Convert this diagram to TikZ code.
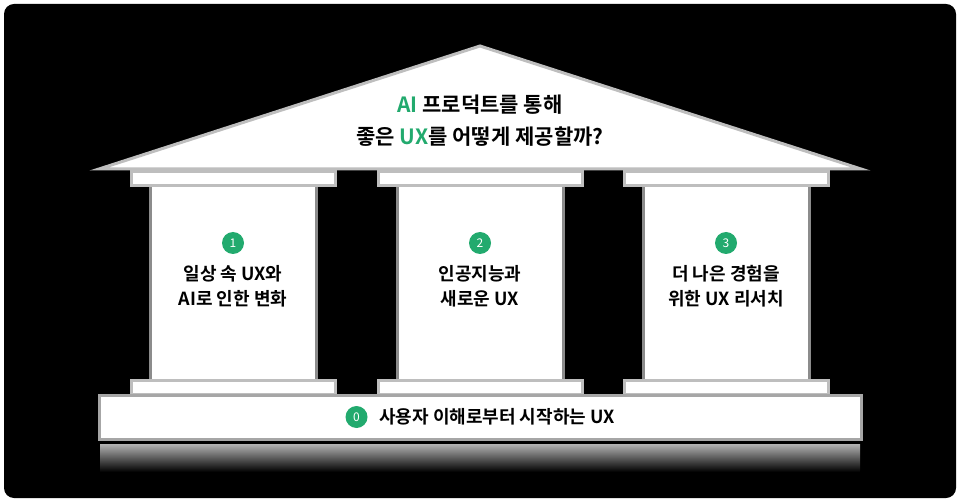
\documentclass[tikz,border=0pt]{standalone}
\usepackage{fontspec}
\setmainfont{Noto Sans CJK KR}[BoldFont={Noto Sans CJK KR Bold}]
\usetikzlibrary{positioning}
\definecolor{ngreen}{RGB}{34,170,110}
\definecolor{edgegray}{RGB}{190,190,190}
\tikzset{
  plate/.style={draw=edgegray, line width=3pt, fill=white},
  pillar/.style={draw=gray!90, line width=3pt, fill=white},
  badge/.style={circle, fill=ngreen, text=white, inner sep=0pt, minimum size=22pt, font=\fontsize{12}{12}\selectfont},
  caption/.style={align=center, font=\bfseries\fontsize{18}{25}\selectfont}
}
\begin{document}
\begin{tikzpicture}[x=1pt,y=-1pt]
  \useasboundingbox (0,0) rectangle (960,502);
  \fill[white] (0,0) rectangle (960,502);
  \fill[black, rounded corners=10pt] (4,4) rectangle (956,498);

  % reflection
  \shade[top color=gray!60, bottom color=black] (100,444) rectangle (860,472);

  % roof
  \draw[edgegray, line width=3pt, fill=white, line join=miter] (99,169) -- (480,46) -- (861,169) -- cycle;
  \node[caption, font=\bfseries\fontsize{21}{32}\selectfont] (roof) at (480,121)
    {{\color{ngreen}AI} 프로덕트를 통해\\좋은 {\color{ngreen}UX}를 어떻게 제공할까?};

  % pillars
  \foreach \cx/\num/\txt [count=\i] in {233/1/{일상 속 UX와\\AI로 인한 변화},
                                        480/2/{인공지능과\\새로운 UX},
                                        726/3/{더 나은 경험을\\위한 UX 리서치}} {
    \draw[pillar] (\cx-83,186) rectangle (\cx+83,380);
    \draw[plate] (\cx-102,172) rectangle (\cx+102,186);
    \draw[plate] (\cx-102,380) rectangle (\cx+102,394);
    \node[badge] (num\i) at (\cx,243) {\num};
    \node[caption, below=8pt of num\i] (col\i) {\txt};
  }

  % base
  \draw[plate, draw=gray!70] (99,395) rectangle (861,439);
  \node[caption] (basetext) at (497,417) {사용자 이해로부터 시작하는 UX};
  \node[badge, left=8pt of basetext] (num0) {0};
\end{tikzpicture}
\end{document}
